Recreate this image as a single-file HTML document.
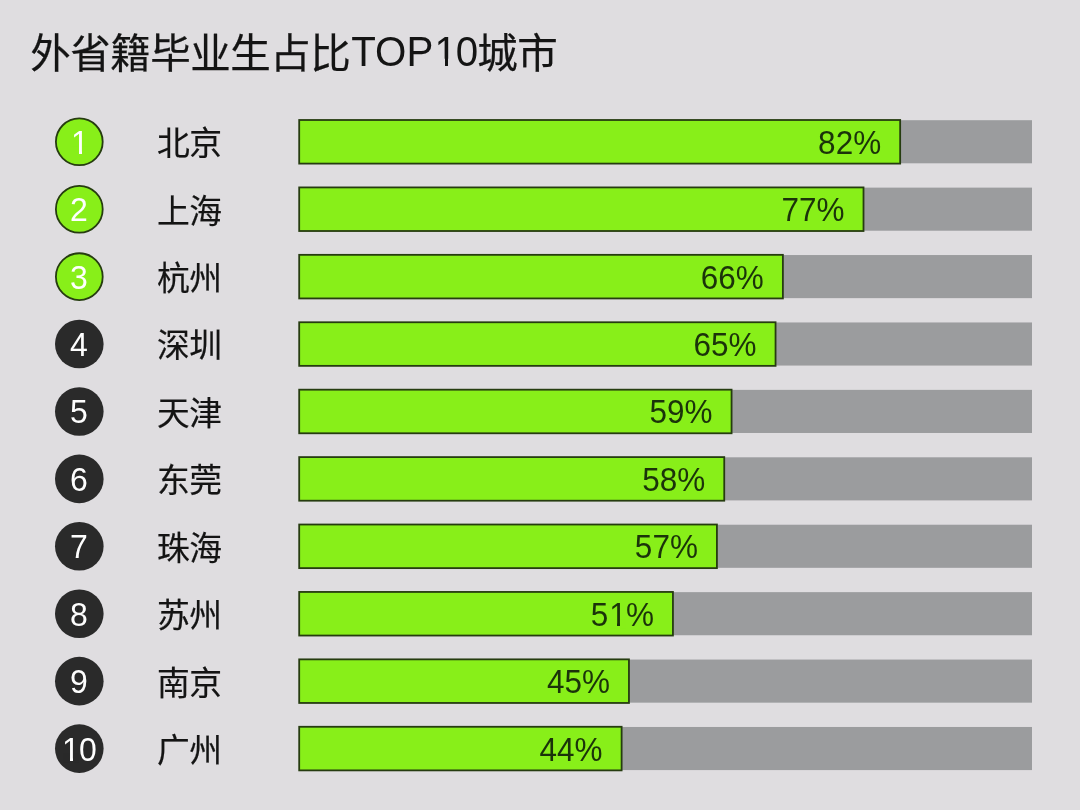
<!DOCTYPE html>
<html lang="zh"><head><meta charset="utf-8"><title>外省籍毕业生占比TOP10城市</title>
<style>
html,body{margin:0;padding:0}
body{width:1080px;height:810px;background:#dfdde0;overflow:hidden;position:relative;font-family:"Liberation Sans","Noto Sans CJK SC",sans-serif;color:#141414}
svg{position:absolute;left:0;top:0}
.t{position:absolute;left:0;top:0;width:1080px;height:810px;will-change:transform;opacity:.999}
.title{position:absolute;left:30.3px;top:28.8px;font-size:40.5px;line-height:50px;white-space:nowrap;letter-spacing:-.5px;-webkit-text-stroke:.25px #141414}
.lt{display:inline-block;position:relative;left:.9px;top:-1.7px;font-size:40.3px;letter-spacing:0;-webkit-text-stroke:0;transform:scaleY(1.04);transform-origin:50% 75%}
.n{position:absolute;left:38.9px;width:80px;height:40px;color:#fff;font-size:32px;line-height:40px;text-align:center;transform:scaleY(1.04);transform-origin:50% 75%}
.city{position:absolute;left:156.9px;font-size:32.8px;line-height:46px;white-space:nowrap;letter-spacing:-0.5px;-webkit-text-stroke:.2px #141414}
.o{position:relative;display:inline-block;line-height:1;left:.03em}
.o::before,.o::after{content:"";position:absolute;top:.64em;height:.235em;background:var(--k)}
.o::before{left:.03em;width:.2195em}
.o::after{left:.3418em;width:.2em}
.pct{position:absolute;font-size:31.5px;line-height:45px;color:#1b330b;text-align:right;white-space:nowrap;width:120px;transform:scaleY(1.04);transform-origin:50% 75%}
</style></head><body>
<svg width="1080" height="810" viewBox="0 0 1080 810">
<rect x="300" y="120.20" width="732" height="43.1" fill="#9b9c9e"/><rect x="299.20" y="120.00" width="600.96" height="43.60" fill="#88ef19" stroke="#263c10" stroke-width="1.8"/><circle cx="79.3" cy="141.80" r="23.40" fill="#88ef19" stroke="#263c10" stroke-width="1.8"/>
<rect x="300" y="187.62" width="732" height="43.1" fill="#9b9c9e"/><rect x="299.20" y="187.42" width="564.31" height="43.60" fill="#88ef19" stroke="#263c10" stroke-width="1.8"/><circle cx="79.3" cy="209.22" r="23.40" fill="#88ef19" stroke="#263c10" stroke-width="1.8"/>
<rect x="300" y="255.04" width="732" height="43.1" fill="#9b9c9e"/><rect x="299.20" y="254.84" width="483.68" height="43.60" fill="#88ef19" stroke="#263c10" stroke-width="1.8"/><circle cx="79.3" cy="276.64" r="23.40" fill="#88ef19" stroke="#263c10" stroke-width="1.8"/>
<rect x="300" y="322.46" width="732" height="43.1" fill="#9b9c9e"/><rect x="299.20" y="322.26" width="476.35" height="43.60" fill="#88ef19" stroke="#263c10" stroke-width="1.8"/><circle cx="79.3" cy="344.06" r="24.30" fill="#2a2a2a"/>
<rect x="300" y="389.88" width="732" height="43.1" fill="#9b9c9e"/><rect x="299.20" y="389.68" width="432.37" height="43.60" fill="#88ef19" stroke="#263c10" stroke-width="1.8"/><circle cx="79.3" cy="411.48" r="24.30" fill="#2a2a2a"/>
<rect x="300" y="457.30" width="732" height="43.1" fill="#9b9c9e"/><rect x="299.20" y="457.10" width="425.04" height="43.60" fill="#88ef19" stroke="#263c10" stroke-width="1.8"/><circle cx="79.3" cy="478.90" r="24.30" fill="#2a2a2a"/>
<rect x="300" y="524.72" width="732" height="43.1" fill="#9b9c9e"/><rect x="299.20" y="524.52" width="417.71" height="43.60" fill="#88ef19" stroke="#263c10" stroke-width="1.8"/><circle cx="79.3" cy="546.32" r="24.30" fill="#2a2a2a"/>
<rect x="300" y="592.14" width="732" height="43.1" fill="#9b9c9e"/><rect x="299.20" y="591.94" width="373.73" height="43.60" fill="#88ef19" stroke="#263c10" stroke-width="1.8"/><circle cx="79.3" cy="613.74" r="24.30" fill="#2a2a2a"/>
<rect x="300" y="659.56" width="732" height="43.1" fill="#9b9c9e"/><rect x="299.20" y="659.36" width="329.75" height="43.60" fill="#88ef19" stroke="#263c10" stroke-width="1.8"/><circle cx="79.3" cy="681.16" r="24.30" fill="#2a2a2a"/>
<rect x="300" y="726.98" width="732" height="43.1" fill="#9b9c9e"/><rect x="299.20" y="726.78" width="322.42" height="43.60" fill="#88ef19" stroke="#263c10" stroke-width="1.8"/><circle cx="79.3" cy="748.58" r="24.30" fill="#2a2a2a"/>
</svg>
<div class="t">
<div class="title">外省籍毕业生占比<span class="lt">TOP<span class="o" style="--k:#dfdde0">1</span>0</span>城市</div>
<div class="n" style="top:122.80px"><span class="o" style="--k:#88ef19">1</span></div><div class="city" style="top:121.20px">北京</div><div class="pct" style="top:120.80px;left:761.16px">82%</div>
<div class="n" style="top:190.22px">2</div><div class="city" style="top:188.62px">上海</div><div class="pct" style="top:188.22px;left:724.51px">77%</div>
<div class="n" style="top:257.64px">3</div><div class="city" style="top:256.04px">杭州</div><div class="pct" style="top:255.64px;left:643.88px">66%</div>
<div class="n" style="top:325.06px">4</div><div class="city" style="top:323.46px">深圳</div><div class="pct" style="top:323.06px;left:636.55px">65%</div>
<div class="n" style="top:392.48px">5</div><div class="city" style="top:390.88px">天津</div><div class="pct" style="top:390.48px;left:592.57px">59%</div>
<div class="n" style="top:459.90px">6</div><div class="city" style="top:458.30px">东莞</div><div class="pct" style="top:457.90px;left:585.24px">58%</div>
<div class="n" style="top:527.32px">7</div><div class="city" style="top:525.72px">珠海</div><div class="pct" style="top:525.32px;left:577.91px">57%</div>
<div class="n" style="top:594.74px">8</div><div class="city" style="top:593.14px">苏州</div><div class="pct" style="top:592.74px;left:533.93px">5<span class="o" style="--k:#88ef19">1</span>%</div>
<div class="n" style="top:662.16px">9</div><div class="city" style="top:660.56px">南京</div><div class="pct" style="top:660.16px;left:489.95px">45%</div>
<div class="n" style="top:729.58px"><span class="o" style="--k:#2a2a2a">1</span>0</div><div class="city" style="top:727.98px">广州</div><div class="pct" style="top:727.58px;left:482.62px">44%</div>
</div>
</body></html>
